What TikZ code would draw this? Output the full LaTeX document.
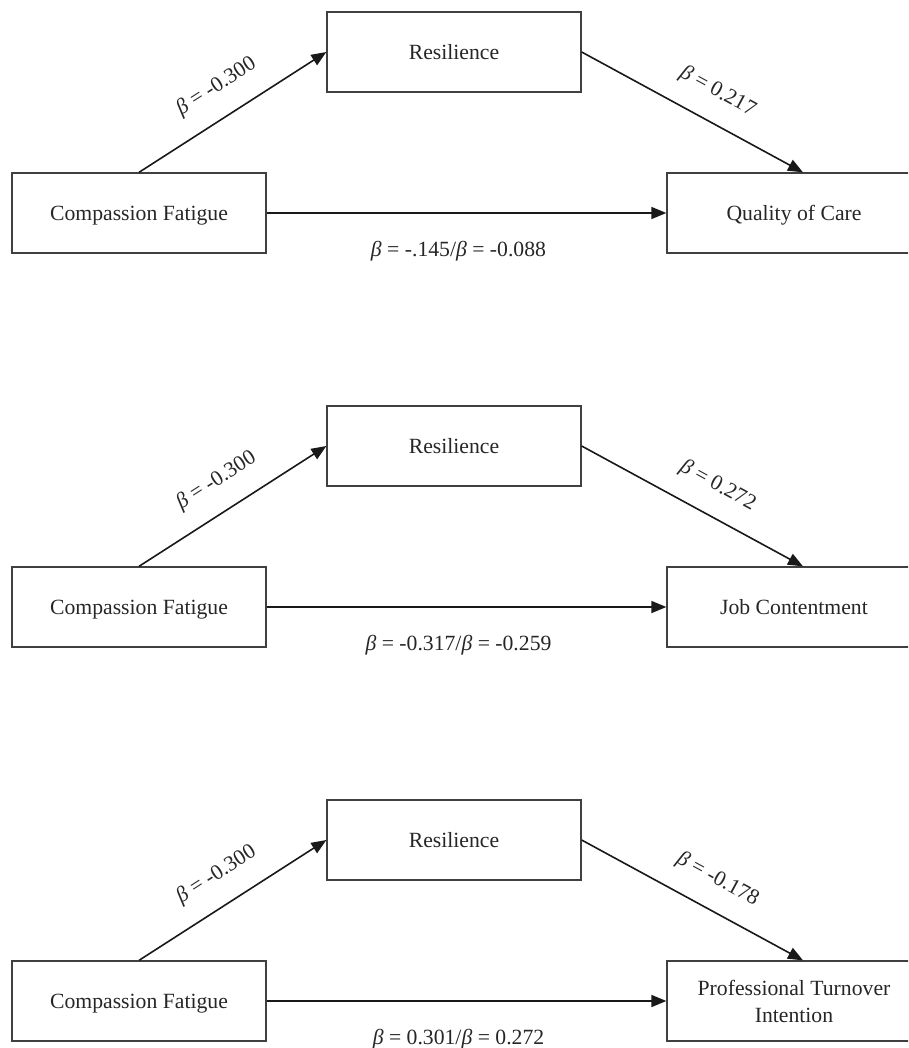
\documentclass[tikz,border=0pt]{standalone}
\usepackage{fontspec}
\setmainfont{Liberation Serif}
\usetikzlibrary{arrows.meta}
\tikzset{
  box/.style={draw=black!75, line width=1.3pt, minimum width=254pt, minimum height=80pt,
    inner sep=0pt, align=center, font=\fontsize{21.7}{27}\selectfont, text=black!85},
  onebox/.style={box, text depth=0pt},
  conn/.style={line width=1.6pt, draw=black!90, -{Triangle[length=15pt,width=12pt]}},
  lbl/.style={font=\fontsize{21.7}{27}\selectfont, text=black!85},
}
\newcommand{\bt}{\textit{β}}
\begin{document}
\begin{tikzpicture}[x=1pt,y=-1pt]
\useasboundingbox (0,0) rectangle (908,1048);
\clip (0,0) rectangle (908,1048);
% ---------- diagram 1
\node[onebox] (r1) at (454,52) {Resilience};
\node[onebox] (c1) at (139,213) {Compassion Fatigue};
\node[onebox] (q1) at (794,213) {Quality of Care};
\draw[conn] (c1.north) -- node[lbl, sloped, above=16pt, pos=0.5] {\bt{} = -0.300} (r1.west);
\draw[conn] (r1.east) -- node[lbl, sloped, above=16pt, pos=0.55] {\bt{} = 0.217} ([xshift=9pt]q1.north);
\draw[conn] (c1.east) -- node[lbl, below=24pt, pos=0.48] {\bt{} = -.145/\bt{} = -0.088} (q1.west);
% ---------- diagram 2
\node[onebox] (r2) at (454,446) {Resilience};
\node[onebox] (c2) at (139,607) {Compassion Fatigue};
\node[onebox] (q2) at (794,607) {Job Contentment};
\draw[conn] (c2.north) -- node[lbl, sloped, above=16pt, pos=0.5] {\bt{} = -0.300} (r2.west);
\draw[conn] (r2.east) -- node[lbl, sloped, above=16pt, pos=0.55] {\bt{} = 0.272} ([xshift=9pt]q2.north);
\draw[conn] (c2.east) -- node[lbl, below=24pt, pos=0.48] {\bt{} = -0.317/\bt{} = -0.259} (q2.west);
% ---------- diagram 3
\node[onebox] (r3) at (454,840) {Resilience};
\node[onebox] (c3) at (139,1001) {Compassion Fatigue};
\node[box] (q3) at (794,1001) {Professional Turnover\\Intention};
\draw[conn] (c3.north) -- node[lbl, sloped, above=16pt, pos=0.5] {\bt{} = -0.300} (r3.west);
\draw[conn] (r3.east) -- node[lbl, sloped, above=16pt, pos=0.55] {\bt{} = -0.178} ([xshift=9pt]q3.north);
\draw[conn] (c3.east) -- node[lbl, below=24pt, pos=0.48] {\bt{} = 0.301/\bt{} = 0.272} (q3.west);
\end{tikzpicture}
\end{document}
